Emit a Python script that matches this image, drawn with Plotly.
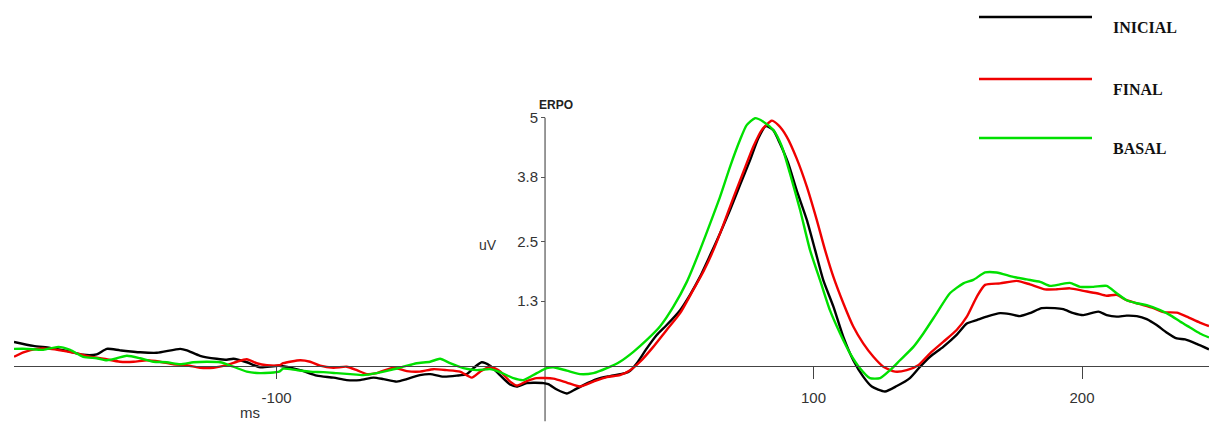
import plotly.graph_objects as go

# ---------------- data (ms, uV) ----------------
t_inicial = [-197.8, -190.6, -184.4, -178.1, -172.0, -167.0, -163.2, -158.3, -150.8, -144.6,
             -135.9, -133.4, -128.5, -122.3, -118.5, -116.1, -111.1, -106.1, -99.0, -91.2,
             -85.0, -78.8, -73.9, -68.9, -63.9, -60.2, -55.2, -51.5, -46.6, -42.8,
             -37.9, -32.9, -29.2, -26.7, -23.6, -20.5, -16.8, -13.0, -10.5, -6.8,
             -0.6, 1.2, 4.4, 8.1, 10.5, 14.3, 19.3, 24.2, 29.8, 31.7,
             34.2, 37.9, 41.6, 45.3, 50.3, 54.0, 57.7, 61.5, 65.2, 68.9,
             72.6, 76.4, 79.4, 82.2, 85.0, 87.5, 90.6, 93.7, 97.5, 100.6,
             103.6, 107.4, 111.1, 114.8, 118.5, 121.7, 126.6, 131.0, 135.9, 139.7,
             143.4, 148.3, 153.3, 157.1, 160.8, 164.5, 169.5, 173.2, 176.9, 180.6,
             185.0, 189.9, 193.0, 196.8, 200.5, 206.1, 209.2, 212.9, 216.6, 220.4,
             224.1, 227.8, 231.5, 235.3, 238.4, 242.7, 247.3]
v_inicial = [0.48, 0.40, 0.36, 0.30, 0.22, 0.23, 0.34, 0.31, 0.27, 0.26,
             0.34, 0.31, 0.20, 0.14, 0.12, 0.14, 0.07, -0.03, 0.00, -0.09,
             -0.20, -0.24, -0.29, -0.29, -0.24, -0.27, -0.32, -0.27, -0.19, -0.17,
             -0.22, -0.20, -0.17, -0.05, 0.07, 0.00, -0.19, -0.38, -0.42, -0.35,
             -0.35, -0.37, -0.48, -0.56, -0.50, -0.39, -0.27, -0.21, -0.15, -0.10,
             0.05, 0.35, 0.62, 0.82, 1.12, 1.43, 1.79, 2.23, 2.67, 3.14,
             3.64, 4.15, 4.58, 4.83, 4.75, 4.48, 4.08, 3.54, 2.94, 2.33,
             1.73, 1.19, 0.58, 0.11, -0.22, -0.42, -0.52, -0.41, -0.25, -0.02,
             0.18, 0.38, 0.62, 0.85, 0.92, 0.99, 1.06, 1.04, 1.00, 1.06,
             1.16, 1.16, 1.14, 1.06, 1.02, 1.09, 1.02, 0.99, 1.01, 1.00,
             0.94, 0.82, 0.67, 0.55, 0.53, 0.44, 0.33]

t_final = [-197.8, -194.3, -189.3, -184.4, -179.4, -174.4, -169.5, -164.5, -158.3, -153.3,
           -148.3, -143.4, -138.4, -133.4, -128.5, -123.5, -118.5, -114.8, -111.1, -107.4,
           -103.6, -99.0, -97.5, -91.2, -87.5, -83.8, -78.8, -73.9, -70.1, -66.4,
           -62.7, -56.5, -51.5, -46.6, -41.6, -36.6, -31.7, -27.3, -24.2, -20.5,
           -16.8, -13.0, -10.5, -6.8, -3.1, 3.1, 8.1, 13.0, 18.0, 23.0,
           27.9, 31.7, 35.4, 40.3, 45.3, 50.3, 55.2, 59.0, 62.7, 66.4,
           70.1, 73.9, 77.6, 80.7, 84.4, 86.9, 90.0, 93.7, 97.5, 101.2,
           104.3, 107.4, 111.1, 114.8, 118.5, 122.3, 126.0, 130.4, 134.7, 139.0,
           143.4, 148.3, 153.3, 157.1, 160.8, 163.9, 169.5, 175.7, 180.6, 186.2,
           190.6, 195.5, 200.5, 205.5, 209.2, 212.9, 216.6, 221.6, 226.6, 230.3,
           235.3, 239.0, 243.9, 247.3]
v_final = [0.18, 0.27, 0.34, 0.34, 0.30, 0.25, 0.18, 0.14, 0.08, 0.08,
           0.11, 0.08, 0.03, 0.01, -0.04, -0.04, 0.01, 0.08, 0.13, 0.05,
           0.01, 0.01, 0.05, 0.11, 0.08, 0.00, -0.04, -0.02, -0.09, -0.17,
           -0.15, -0.04, -0.11, -0.12, -0.07, -0.09, -0.12, -0.24, -0.12, -0.02,
           -0.11, -0.32, -0.40, -0.31, -0.25, -0.26, -0.34, -0.42, -0.32, -0.23,
           -0.19, -0.09, 0.08, 0.38, 0.72, 1.06, 1.53, 1.90, 2.33, 2.84,
           3.38, 3.91, 4.42, 4.75, 4.94, 4.85, 4.62, 4.18, 3.61, 2.94,
           2.33, 1.79, 1.26, 0.79, 0.45, 0.18, -0.02, -0.12, -0.09, 0.01,
           0.25, 0.48, 0.72, 0.99, 1.39, 1.63, 1.66, 1.71, 1.64, 1.54,
           1.54, 1.56, 1.51, 1.46, 1.41, 1.43, 1.32, 1.24, 1.16, 1.08,
           1.07, 0.99, 0.87, 0.80]

t_basal = [-197.8, -193.0, -186.9, -181.3, -176.9, -172.0, -167.0, -163.2, -159.5, -155.8,
           -150.8, -145.9, -140.9, -135.9, -131.0, -126.0, -121.0, -116.1, -111.1, -106.1,
           -99.0, -97.5, -92.5, -87.5, -82.6, -77.6, -72.6, -67.7, -62.7, -57.7,
           -52.8, -47.8, -42.8, -39.1, -35.4, -30.4, -25.4, -20.5, -16.8, -11.8,
           -8.1, -3.1, 0.6, 3.1, 8.1, 13.0, 18.0, 23.0, 27.9, 32.9,
           37.9, 42.8, 47.8, 52.8, 57.7, 61.5, 65.2, 68.9, 72.6, 75.1,
           78.2, 81.3, 85.0, 88.2, 91.2, 95.0, 98.7, 102.4, 106.1, 109.9,
           113.6, 117.3, 121.0, 124.8, 128.5, 132.2, 137.2, 140.9, 145.9, 150.8,
           155.8, 159.5, 163.9, 168.2, 174.4, 179.4, 184.4, 188.1, 191.8, 195.5,
           199.3, 204.2, 209.2, 212.9, 216.6, 220.4, 224.1, 229.1, 232.8, 236.5,
           240.2, 243.9, 247.3]
v_basal = [0.34, 0.34, 0.32, 0.38, 0.32, 0.18, 0.15, 0.11, 0.15, 0.20,
           0.15, 0.08, 0.07, 0.03, 0.07, 0.08, 0.07, -0.02, -0.12, -0.15,
           -0.12, -0.06, -0.09, -0.12, -0.13, -0.15, -0.17, -0.19, -0.15, -0.09,
           -0.02, 0.05, 0.08, 0.14, 0.05, -0.05, -0.09, -0.07, -0.13, -0.25,
           -0.29, -0.15, -0.05, -0.03, -0.10, -0.17, -0.15, -0.05, 0.08, 0.28,
           0.52, 0.79, 1.19, 1.69, 2.33, 2.87, 3.41, 4.01, 4.55, 4.85,
           4.99, 4.92, 4.75, 4.42, 3.88, 3.14, 2.33, 1.73, 1.12, 0.65,
           0.25, -0.05, -0.25, -0.25, -0.09, 0.11, 0.38, 0.65, 1.06, 1.46,
           1.66, 1.73, 1.88, 1.88, 1.79, 1.74, 1.69, 1.61, 1.64, 1.67,
           1.59, 1.59, 1.61, 1.46, 1.32, 1.26, 1.22, 1.12, 1.02, 0.89,
           0.77, 0.65, 0.57]

series_names = ["INICIAL", "FINAL", "BASAL"]
series_colors = ["#000000", "#f00000", "#00e000"]

x_ticks = [-100, 100, 200]
y_ticks = [1.3, 2.5, 3.8, 5]
y_ticktext = ["1.3", "2.5", "3.8", "5"]

# ---------------- layout geometry ----------------
W, H = 1209, 435
ML, MR, MT, MB = 14, 0, 0, 0
X_RANGE = [-197.8, 247.3]
Y_RANGE = [-1.397, 7.373]

def px_x(px):
    return (px - ML) / (W - ML - MR)

def px_y(py):
    return 1 - (py - MT) / (H - MT - MB)

fig = go.Figure()
for t, v, name, col in zip([t_inicial, t_final, t_basal],
                           [v_inicial, v_final, v_basal],
                           series_names, series_colors):
    fig.add_trace(go.Scatter(x=t, y=v, mode="lines", name=name,
                             line=dict(color=col, width=2.4, shape="spline", smoothing=0.6),
                             showlegend=False, hoverinfo="skip"))

x_pos = (0 - Y_RANGE[0]) / (Y_RANGE[1] - Y_RANGE[0])
y_pos = (0 - X_RANGE[0]) / (X_RANGE[1] - X_RANGE[0])

axis_font = dict(family="Liberation Sans, Arial, sans-serif", size=15, color="#333333")

fig.update_layout(
    width=W, height=H,
    margin=dict(l=ML, r=MR, t=MT, b=MB, pad=0),
    paper_bgcolor="white", plot_bgcolor="white",
    xaxis=dict(range=X_RANGE, anchor="free", position=x_pos,
               showgrid=False, zeroline=False,
               showline=True, linecolor="#444444", linewidth=1,
               tickmode="array", tickvals=x_ticks, ticktext=[str(v) for v in x_ticks],
               ticks="outside", ticklen=12, tickcolor="#444444", tickwidth=1,
               tickfont=axis_font, ticklabelstandoff=6),
    yaxis=dict(range=Y_RANGE, anchor="free", position=y_pos,
               showgrid=False, zeroline=False, showline=False,
               tickmode="array", tickvals=y_ticks, ticktext=y_ticktext,
               ticks="outside", ticklen=4, tickcolor="#555555", tickwidth=1,
               tickfont=axis_font),
)

# vertical axis line (from bottom to top tick)
fig.add_shape(type="line", xref="x", yref="y", x0=0, x1=0, y0=-1.12, y1=5,
              line=dict(color="#777777", width=1.5), layer="below")

# axis titles
fig.add_annotation(x=px_x(556), y=px_y(96), xref="paper", yref="paper", text="<b>ERPO</b>",
                   showarrow=False, font=dict(family="Liberation Sans, Arial, sans-serif", size=12, color="#222222"))
fig.add_annotation(x=px_x(488), y=px_y(245), xref="paper", yref="paper", text="uV",
                   showarrow=False, font=dict(family="Liberation Sans, Arial, sans-serif", size=14, color="#333333"))
fig.add_annotation(x=px_x(238), y=px_y(423), xref="paper", yref="paper", text="ms",
                   showarrow=False, font=dict(family="Liberation Sans, Arial, sans-serif", size=15, color="#333333"))

# legend drawn as lines + labels
legend_y_px = [17, 79, 138]
for name, col, ly in zip(series_names, series_colors, legend_y_px):
    fig.add_shape(type="line", xref="paper", yref="paper",
                  x0=px_x(979), x1=px_x(1092), y0=px_y(ly), y1=px_y(ly),
                  line=dict(color=col, width=2.4))
    fig.add_annotation(x=px_x(1111), y=px_y(ly), xref="paper", yref="paper",
                       text="<b>%s</b>" % name, showarrow=False, xanchor="left",
                       font=dict(family="Liberation Serif, Times New Roman, serif", size=16, color="#111111"))

fig.write_html("out.html")
